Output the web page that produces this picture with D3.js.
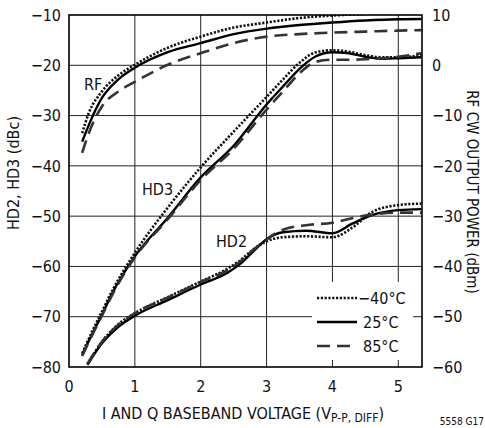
<!DOCTYPE html>
<html>
<head>
<meta charset="utf-8">
<script src="https://cdn.jsdelivr.net/npm/d3@7"></script>
<style>
  body { margin: 0; background: #fff; }
  svg text { font-family: "Liberation Sans Narrow", "DejaVu Sans Condensed", "Roboto", sans-serif; fill: #111; }
</style>
</head>
<body>
<div id="chart"></div>
<script>
// RF output power (right axis, dBm)
var rfVolts = [0.2, 0.3, 0.5, 0.75, 1, 1.5, 2, 2.5, 3, 3.5, 4, 4.5, 5, 5.35];
var rfM40 = [-13.5, -9.5, -5.2, -2.0, 0.1, 3.5, 5.7, 7.5, 8.5, 9.4, 9.9, 10.2, 10.4, 10.5];
var rf25 = [-15.2, -11.9, -6.5, -2.8, -0.5, 2.6, 4.4, 6.2, 7.3, 8.0, 8.5, 8.9, 9.15, 9.2];
var rf85 = [-17.4, -13.5, -8.2, -5.2, -3.3, 0.1, 2.4, 4.4, 5.7, 6.2, 6.5, 6.7, 6.9, 7.0];

// HD3 (left axis, dBc)
var hd3Volts = [0.2, 0.35, 0.5, 0.65, 1, 1.5, 2, 2.5, 3, 3.25, 3.5, 3.75, 4, 4.25, 4.5, 4.75, 5, 5.35];
var hd3M40 = [-77.3, -73, -69, -65, -57.3, -48.3, -40.3, -33.2, -26.3, -22.8, -19.5, -17.4, -17.0, -17.3, -18.0, -18.4, -18.4, -18.0];
var hd3_25 = [-77.6, -73.5, -69.6, -65.5, -58, -50.3, -42.3, -36, -27.8, -24.2, -20.7, -18.2, -17.4, -17.6, -18.3, -18.7, -18.6, -18.4];
var hd3_85 = [-77.8, -73.7, -69.8, -65.8, -58.2, -50.6, -42.8, -36.6, -28.8, -25.2, -21.6, -19.3, -18.9, -18.9, -18.8, -18.6, -18.3, -17.6];

// HD2 (left axis, dBc)
var hd2Volts = [0.28, 0.5, 0.75, 1, 1.5, 2, 2.4, 2.6, 2.8, 3, 3.25, 3.6, 4, 4.3, 4.6, 5, 5.35];
var hd2M40 = [-79.4, -75, -71.5, -69.3, -66.1, -63, -60.5, -58.8, -56.6, -55, -54.2, -54, -54.2, -52.3, -49.2, -47.8, -47.5];
var hd2_25 = [-79.6, -75.3, -72, -69.8, -66.7, -63.6, -61.3, -59.5, -57, -54.6, -53.2, -52.9, -53.4, -51.5, -49.8, -48.8, -48.6];
var hd2_85 = [-79.4, -75, -71.6, -69.3, -66.2, -63.1, -60.8, -59.0, -56.7, -54.6, -52.7, -51.8, -51.3, -50.4, -49.7, -49.3, -49.3];

var xTicks = [0, 1, 2, 3, 4, 5];
var leftTicks = [-80, -70, -60, -50, -40, -30, -20, -10];
var rightTicks = [-60, -50, -40, -30, -20, -10, 0, 10];
var legendLabels = ['\u221240\u00b0C', '25\u00b0C', '85\u00b0C'];

(function () {
  var width = 485;
  var height = 428;
  var margin = { top: 15, right: 63, bottom: 61, left: 69 };

  var xScale = d3.scaleLinear().domain([0, 5.36]).range([margin.left, width - margin.right]);
  var yLeft = d3.scaleLinear().domain([-80, -10]).range([height - margin.bottom, margin.top]);
  var yRight = d3.scaleLinear().domain([-60, 10]).range([height - margin.bottom, margin.top]);

  var fmt = function (d) { return d < 0 ? '\u2212' + Math.abs(d) : String(d); };

  var svg = d3.select('#chart').append('svg')
      .attr('width', width)
      .attr('height', height);

  svg.append('defs').append('clipPath').attr('id', 'plot-clip')
    .append('rect')
      .attr('x', margin.left).attr('y', margin.top)
      .attr('width', xScale.range()[1] - margin.left)
      .attr('height', yLeft.range()[0] - margin.top);

  // grid
  var grid = svg.append('g').attr('stroke', '#222').attr('stroke-width', 1);
  grid.selectAll('line.v').data(xTicks.slice(1)).enter().append('line')
      .attr('class', 'v')
      .attr('x1', function (d) { return xScale(d); }).attr('x2', function (d) { return xScale(d); })
      .attr('y1', margin.top).attr('y2', yLeft.range()[0]);
  grid.selectAll('line.h').data(leftTicks.slice(1, -1)).enter().append('line')
      .attr('class', 'h')
      .attr('x1', margin.left).attr('x2', xScale.range()[1])
      .attr('y1', function (d) { return yLeft(d); }).attr('y2', function (d) { return yLeft(d); });

  // legend background hides grid
  svg.append('rect')
      .attr('x', 312).attr('y', 282).attr('width', 101).attr('height', 78)
      .attr('fill', '#fff');

  var styles = [
    { dash: '2.2,1.6', color: '#111', width: 2.6 },
    { dash: null, color: '#000', width: 2.4 },
    { dash: '13,7', color: '#333', width: 2.6 }
  ];

  var series = [
    { xs: rfVolts, ys: rfM40, y: yRight, s: 0 },
    { xs: rfVolts, ys: rf25, y: yRight, s: 1 },
    { xs: rfVolts, ys: rf85, y: yRight, s: 2 },
    { xs: hd3Volts, ys: hd3M40, y: yLeft, s: 0 },
    { xs: hd3Volts, ys: hd3_25, y: yLeft, s: 1 },
    { xs: hd3Volts, ys: hd3_85, y: yLeft, s: 2 },
    { xs: hd2Volts, ys: hd2M40, y: yLeft, s: 0 },
    { xs: hd2Volts, ys: hd2_25, y: yLeft, s: 1 },
    { xs: hd2Volts, ys: hd2_85, y: yLeft, s: 2 }
  ];

  var curves = svg.append('g').attr('clip-path', 'url(#plot-clip)');
  series.forEach(function (ser) {
    var pts = ser.xs.map(function (v, i) { return [v, ser.ys[i]]; });
    var line = d3.line()
        .x(function (d) { return xScale(d[0]); })
        .y(function (d) { return ser.y(d[1]); })
        .curve(d3.curveMonotoneX);
    var st = styles[ser.s];
    curves.append('path')
        .attr('d', line(pts))
        .attr('fill', 'none')
        .attr('stroke', st.color)
        .attr('stroke-width', st.width)
        .attr('stroke-dasharray', st.dash);
  });

  // frame
  svg.append('rect')
      .attr('x', margin.left).attr('y', margin.top)
      .attr('width', xScale.range()[1] - margin.left)
      .attr('height', yLeft.range()[0] - margin.top)
      .attr('fill', 'none').attr('stroke', '#000').attr('stroke-width', 1.6);

  // tick labels
  svg.selectAll('text.xt').data(xTicks).enter().append('text')
      .attr('class', 'xt')
      .attr('x', function (d) { return xScale(d); })
      .attr('y', 392)
      .attr('text-anchor', 'middle')
      .attr('font-size', 16)
      .text(fmt);
  svg.selectAll('text.yl').data(leftTicks).enter().append('text')
      .attr('class', 'yl')
      .attr('x', 61)
      .attr('y', function (d) { return yLeft(d); })
      .attr('dy', '0.36em')
      .attr('text-anchor', 'end')
      .attr('font-size', 16)
      .text(fmt);
  svg.selectAll('text.yr').data(rightTicks).enter().append('text')
      .attr('class', 'yr')
      .attr('x', 432)
      .attr('y', function (d) { return yRight(d); })
      .attr('dy', '0.36em')
      .attr('font-size', 16)
      .text(fmt);

  // axis titles
  var xt = svg.append('text')
      .attr('x', 243).attr('y', 419)
      .attr('text-anchor', 'middle')
      .attr('font-size', 16);
  xt.append('tspan').text('I AND Q BASEBAND VOLTAGE (V');
  xt.append('tspan').attr('font-size', 12).attr('dy', 3).text('P-P, DIFF');
  xt.append('tspan').attr('dy', -3).text(')');

  svg.append('text')
      .attr('transform', 'translate(19,173) rotate(-90)')
      .attr('text-anchor', 'middle')
      .attr('font-size', 16)
      .text('HD2, HD3 (dBc)');
  svg.append('text')
      .attr('transform', 'translate(467,192) rotate(90)')
      .attr('text-anchor', 'middle')
      .attr('font-size', 15)
      .text('RF CW OUTPUT POWER (dBm)');

  svg.append('text')
      .attr('x', 484).attr('y', 425)
      .attr('text-anchor', 'end')
      .attr('font-size', 10)
      .text('5558 G17');

  // curve labels
  svg.append('text').attr('x', 84).attr('y', 90).attr('font-size', 16).text('RF');
  svg.append('text').attr('x', 142).attr('y', 195).attr('font-size', 16).text('HD3');
  svg.append('text').attr('x', 216).attr('y', 247).attr('font-size', 16).text('HD2');

  // legend
  var leg = svg.append('g');
  legendLabels.forEach(function (lab, i) {
    var y = 298 + i * 24;
    var st = styles[i];
    leg.append('line')
        .attr('x1', 317).attr('x2', 357)
        .attr('y1', y).attr('y2', y)
        .attr('stroke', st.color)
        .attr('stroke-width', st.width)
        .attr('stroke-dasharray', st.dash);
    leg.append('text')
        .attr('x', i === 0 ? 358 : 363)
        .attr('y', y)
        .attr('dy', '0.36em')
        .attr('font-size', 16)
        .text(lab);
  });
})();
</script>
</body>
</html>
